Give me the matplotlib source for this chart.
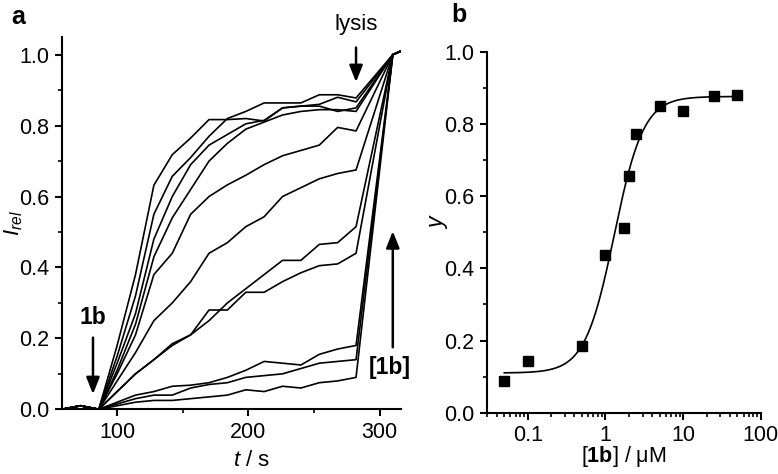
import numpy as np
import matplotlib
matplotlib.use("Agg")
import matplotlib.pyplot as plt

plt.rcParams['font.family'] = ['Liberation Sans', 'DejaVu Sans']
plt.rcParams['mathtext.fontset'] = 'custom'
plt.rcParams['mathtext.rm'] = 'Liberation Sans'
plt.rcParams['mathtext.it'] = 'Liberation Sans:italic'
plt.rcParams['mathtext.bf'] = 'Liberation Sans:bold'

# panel a: time points (s) and relative intensity traces
t_pre = [58, 72]
i_pre = [0.0, 0.01]
t_main = [86, 100, 114, 128, 142, 156, 170, 184, 198, 212, 226, 240, 254, 268, 282]
t_end = [310, 316]
i_end = [1.0, 1.01]

trace_a = [0, 0.18, 0.38, 0.632, 0.718, 0.765, 0.817, 0.817, 0.82, 0.813, 0.85, 0.855, 0.855, 0.84, 0.85]
trace_b = [0, 0.15, 0.32, 0.55, 0.657, 0.71, 0.77, 0.82, 0.84, 0.864, 0.864, 0.864, 0.887, 0.887, 0.878]
trace_c = [0, 0.13, 0.27, 0.48, 0.60, 0.69, 0.745, 0.775, 0.805, 0.815, 0.85, 0.855, 0.86, 0.88, 0.867]
trace_d = [0, 0.11, 0.24, 0.43, 0.54, 0.62, 0.70, 0.75, 0.79, 0.81, 0.83, 0.84, 0.845, 0.845, 0.84]
trace_e = [0, 0.10, 0.21, 0.38, 0.44, 0.55, 0.60, 0.633, 0.66, 0.69, 0.715, 0.73, 0.745, 0.795, 0.785]
trace_f = [0, 0.08, 0.16, 0.25, 0.30, 0.36, 0.44, 0.47, 0.515, 0.543, 0.60, 0.625, 0.65, 0.665, 0.675]
trace_g = [0, 0.05, 0.10, 0.14, 0.18, 0.21, 0.25, 0.30, 0.34, 0.38, 0.42, 0.42, 0.465, 0.47, 0.515]
trace_h = [0, 0.05, 0.10, 0.14, 0.185, 0.21, 0.28, 0.28, 0.33, 0.33, 0.36, 0.385, 0.405, 0.41, 0.44]
trace_i = [0, 0.02, 0.04, 0.05, 0.065, 0.068, 0.075, 0.09, 0.11, 0.135, 0.13, 0.125, 0.155, 0.17, 0.18]
trace_j = [0, 0.015, 0.03, 0.04, 0.04, 0.06, 0.07, 0.075, 0.09, 0.095, 0.10, 0.115, 0.13, 0.135, 0.14]
trace_k = [0, 0.01, 0.02, 0.025, 0.025, 0.03, 0.035, 0.04, 0.055, 0.05, 0.065, 0.06, 0.075, 0.08, 0.09]
traces = [trace_a, trace_b, trace_c, trace_d, trace_e, trace_f,
          trace_g, trace_h, trace_i, trace_j, trace_k]

# panel b: dose response
conc = [0.05, 0.1, 0.5, 1.0, 1.75, 2.0, 2.5, 5.0, 10.0, 25.0, 50.0]
y_frac = [0.088, 0.143, 0.185, 0.437, 0.513, 0.655, 0.772, 0.849, 0.837, 0.877, 0.881]
# Hill fit parameters
y_min = 0.11
y_max = 0.876
ec50 = 1.3
hill_n = 2.3

fs = 15.5
fig = plt.figure(figsize=(7.78, 4.74), dpi=100)
ax1 = fig.add_axes([0.0797, 0.1365, 0.4353, 0.7855])
ax2 = fig.add_axes([0.626, 0.1293, 0.352, 0.7616])

t_all = t_pre + t_main + t_end
for tr in traces:
    ax1.plot(t_all, i_pre + tr + i_end, color='black', lw=1.2)

ax1.set_xlim(58, 316)
ax1.set_ylim(0, 1.05)
ax1.set_xticks([100, 200, 300])
ax1.set_xticks([150, 250], minor=True)
ax1.set_yticks([0.0, 0.2, 0.4, 0.6, 0.8, 1.0])
ax1.set_yticks([0.1, 0.3, 0.5, 0.7, 0.9], minor=True)
ax1.set_yticklabels(['0.0', '0.2', '0.4', '0.6', '0.8', '1.0'])
ax1.set_xlabel('$t$ / s', fontsize=fs + 0.5)
ax1.set_ylabel('$I_{rel}$', fontsize=fs + 0.5)
ax1.xaxis.set_label_coords(0.56, -0.109)
ax1.yaxis.set_label_coords(-0.11, 0.5)

arrow = dict(arrowstyle='-|>,head_width=0.4,head_length=1.0', color='black', lw=1.8)
ax1.annotate('', xy=(282, 0.915), xytext=(282, 1.028), arrowprops=arrow, annotation_clip=False)
ax1.text(282, 1.085, 'lysis', ha='center', va='center', fontsize=16)
ax1.annotate('', xy=(81.6, 0.035), xytext=(81.6, 0.21), arrowprops=arrow)
ax1.text(81.6, 0.26, '1b', ha='center', va='center', fontsize=16.5, fontweight='bold')
ax1.annotate('', xy=(310, 0.51), xytext=(310, 0.167), arrowprops=arrow, annotation_clip=False)
ax1.text(307.5, 0.117, '[1b]', ha='center', va='center', fontsize=16.5, fontweight='bold', clip_on=False)

xs = np.logspace(np.log10(0.05), np.log10(50), 300)
ys = y_min + (y_max - y_min) * xs ** hill_n / (ec50 ** hill_n + xs ** hill_n)
ax2.plot(xs, ys, color='black', lw=1.2)
ax2.plot(conc, y_frac, 's', color='black', ms=6.5)
ax2.set_xscale('log')
ax2.set_xlim(0.03, 100)
ax2.set_ylim(0, 1.0)
ax2.set_xticks([0.1, 1, 10, 100])
ax2.set_xticklabels(['0.1', '1', '10', '100'])
ax2.set_yticks([0.0, 0.2, 0.4, 0.6, 0.8, 1.0])
ax2.set_yticks([0.1, 0.3, 0.5, 0.7, 0.9], minor=True)
ax2.set_yticklabels(['0.0', '0.2', '0.4', '0.6', '0.8', '1.0'])
ax2.set_xlabel(r'[$\mathbf{1b}$] / μM', fontsize=fs)
ax2.set_ylabel('$y$', fontsize=fs + 1)
ax2.xaxis.set_label_coords(0.5, -0.088)
ax2.yaxis.set_label_coords(-0.135, 0.53)

for ax in (ax1, ax2):
    for s in ('top', 'right'):
        ax.spines[s].set_visible(False)
    for s in ('left', 'bottom'):
        ax.spines[s].set_linewidth(1.5)
    ax.tick_params(which='major', direction='out', length=5, width=1.5, labelsize=fs, pad=4)
    ax.tick_params(which='minor', direction='out', length=3, width=1.2)

fig.text(18 / 778, 1 - 17 / 474, 'a', fontsize=18, fontweight='bold', ha='center', va='center')
fig.text(459 / 778, 1 - 15 / 474, 'b', fontsize=18, fontweight='bold', ha='center', va='center')

fig.savefig('out.png', dpi=100)
